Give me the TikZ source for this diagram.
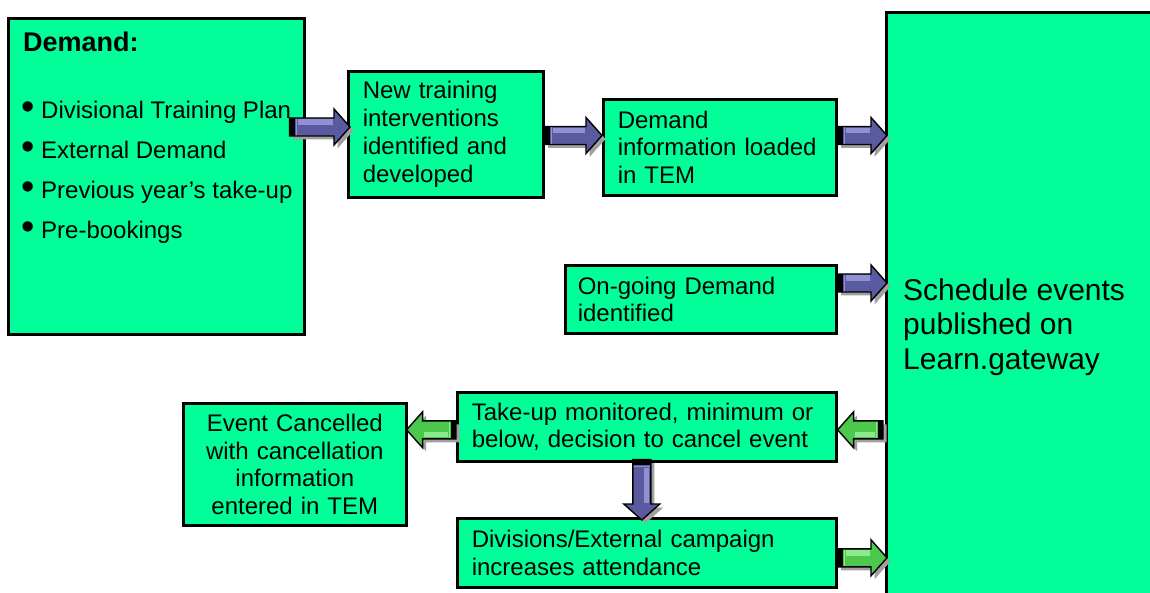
\documentclass[tikz,border=0pt]{standalone}
\usepackage{fontspec}
\setmainfont{Liberation Sans}
\usetikzlibrary{calc}

\definecolor{boxgreen}{HTML}{00FF99}
\definecolor{bluemain}{HTML}{5A5AA0}
\definecolor{bluelight}{HTML}{9090D4}
\definecolor{greenmain}{HTML}{4CC84C}
\definecolor{greenlight}{HTML}{8EEA8E}
\definecolor{arrowshade}{HTML}{A0A0A0}

% outline of a block arrow in its own frame: tail at the origin, tip at (\baL,0)
\newcommand\arrowpath{(0pt,-9pt) -- (\baL-16pt,-9pt) -- (\baL-16pt,-18pt) -- (\baL,0pt) -- (\baL-16pt,18pt) -- (\baL-16pt,9pt) -- (0pt,9pt) -- cycle}

% \blockarrow{tail}{tip}{colour family}: shadowed block arrow between two points
\newcommand\blockarrow[3]{%
  \path let \p1=(#1), \p2=(#2) in \pgfextra{%
    \pgfmathparse{veclen(\x2-\x1,\y2-\y1)}\xdef\baL{\pgfmathresult pt}%
    \pgfmathparse{atan2(\y2-\y1,\x2-\x1)}\xdef\baA{\pgfmathresult}%
    \xdef\baX{\x1}\xdef\baY{\y1}};
  \begin{scope}[shift={(\baX+3.5pt,\baY-3.5pt)},rotate=\baA]
    \fill[arrowshade] \arrowpath;
  \end{scope}
  \begin{scope}[shift={(\baX,\baY)},rotate=\baA]
    \fill[#3main] \arrowpath;
    \fill[#3light] (8pt,2pt) rectangle (\baL-17pt,7.5pt);
    \fill[black] (0pt,-9pt) rectangle (5pt,9pt);
    \fill[#3light] (6pt,-9pt) rectangle (7.5pt,9pt);
    \draw[black,line width=1.4pt,line join=miter] \arrowpath;
  \end{scope}}

\tikzset{
  box/.style={draw=black, line width=2.6pt, fill=boxgreen, inner sep=0pt, anchor=north west},
  txt/.style={font=\fontsize{24pt}{27.7pt}\selectfont, inner sep=0pt},
  bigtxt/.style={font=\fontsize{30pt}{34.5pt}\selectfont, inner sep=0pt, align=left, anchor=west},
  dot/.style={font=\fontsize{38pt}{38pt}\selectfont, inner sep=0pt, anchor=base},
}

\begin{document}
\begin{tikzpicture}[x=1pt,y=-1pt]
\useasboundingbox (0,0) rectangle (1150,593);
\clip (0,0) rectangle (1150,593);

% boxes
\node[box, minimum width=296pt, minimum height=316pt] (demand) at (7,17) {};
\node[box, txt, minimum width=195pt, minimum height=126pt, text width=166pt, align=left] (newtr) at (347,70)
  {New training\\interventions\\identified and\\developed};
\node[box, txt, minimum width=233pt, minimum height=96pt, text width=204pt, align=left] (dinfo) at (602,98)
  {Demand\\information loaded\\in TEM};
\node[box, txt, minimum width=271pt, minimum height=68pt, text width=246pt, align=left] (ongoing) at (564,264)
  {On-going Demand\\identified};
\node[box, txt, minimum width=379pt, minimum height=69pt, text width=350pt, align=left] (takeup) at (456,391)
  {Take-up monitored, minimum or\\below, decision to cancel event};
\node[box, txt, minimum width=223pt, minimum height=122pt, text width=210pt, align=center] (cancel) at (182,402)
  {Event Cancelled\\with cancellation\\information\\entered in TEM};
\node[box, txt, minimum width=379pt, minimum height=69pt, text width=350pt, align=left] (divis) at (456,517)
  {Divisions/External campaign\\increases attendance};
\node[box, line width=3.2pt, minimum width=320pt, minimum height=620pt] (sched) at (885,11) {};

% demand list
\node[inner sep=0pt, anchor=base west, font=\fontsize{27pt}{30pt}\selectfont\bfseries] (dtitle) at (23,52) {Demand:};
\node[txt, anchor=base west] (b1) at (41,119) {Divisional Training Plan};
\node[txt, anchor=base west] (b2) at (41,159) {External Demand};
\node[txt, anchor=base west] (b3) at (41,199) {Previous year’s take-up};
\node[txt, anchor=base west] (b4) at (41,239) {Pre-bookings};
\node[dot] (d1) at (28,120) {•};
\node[dot] (d2) at (28,160) {•};
\node[dot] (d3) at (28,200) {•};
\node[dot] (d4) at (28,240) {•};

\node[bigtxt] (schedtxt) at (903,327) {Schedule events\\published on\\Learn.gateway};

% arrow end points
\coordinate (a1s) at ($(demand.north east)+(-16,110)$);
\coordinate (a1e) at ($(newtr.west |- a1s)+(3,0)$);
\coordinate (a2s) at ($(newtr.north east)+(0,65.5)$);
\coordinate (a2e) at (dinfo.west |- a2s);
\coordinate (a3s) at (dinfo.east |- a2s);
\coordinate (a3e) at ($(sched.west |- a3s)+(2,0)$);
\coordinate (a4s) at ($(ongoing.north east)+(0,19)$);
\coordinate (a4e) at ($(sched.west |- a4s)+(2,0)$);
\coordinate (a5s) at ($(sched.west |- takeup.east)+(-2,3)$);
\coordinate (a5e) at (takeup.east |- a5s);
\coordinate (a6s) at (takeup.west |- a5s);
\coordinate (a6e) at ($(cancel.east |- a5s)+(-1,0)$);
\coordinate (a7s) at ($(takeup.south)+(-5,-3)$);
\coordinate (a7e) at ($(a7s |- divis.north)+(0,3)$);
\coordinate (a8s) at ($(divis.east)+(0,5)$);
\coordinate (a8e) at ($(sched.west |- a8s)+(2,0)$);

% arrows
\blockarrow{a1s}{a1e}{blue}
\blockarrow{a2s}{a2e}{blue}
\blockarrow{a3s}{a3e}{blue}
\blockarrow{a4s}{a4e}{blue}
\blockarrow{a5s}{a5e}{green}
\blockarrow{a6s}{a6e}{green}
\blockarrow{a7s}{a7e}{blue}
\blockarrow{a8s}{a8e}{green}
\end{tikzpicture}
\end{document}
